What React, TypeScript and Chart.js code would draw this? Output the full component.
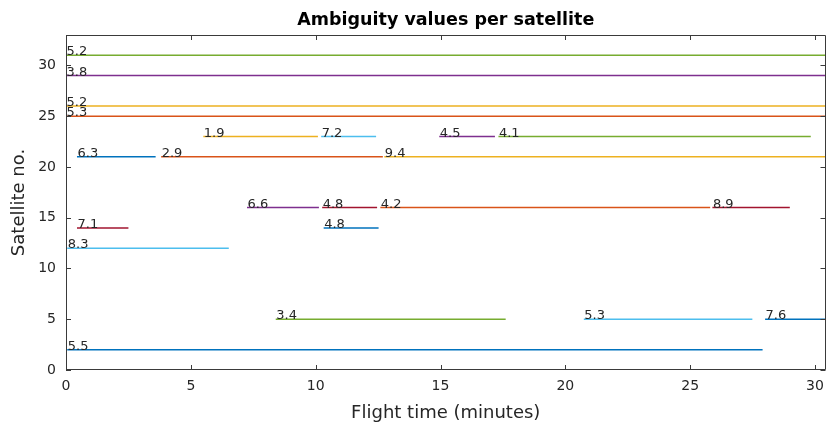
import React, { useEffect, useRef } from "react";
import { Chart, registerables } from "chart.js";

Chart.register(...registerables);

// One entry per tracked ambiguity segment
const satellites = [31, 29, 26, 25, 23, 23, 23, 23, 21, 21, 21, 16, 16, 16, 16, 14, 14, 12, 5, 5, 5, 2];
const startMin = [0, 0, 0, 0, 5.5, 10.22, 14.95, 17.32, 0.44, 3.81, 12.75, 7.25, 10.26, 12.59, 25.89, 0.44, 10.32, 0.05, 8.4, 20.74, 28.0, 0.05];
const endMin = [30.5, 30.5, 30.5, 30.5, 10.09, 12.42, 17.18, 29.83, 3.59, 12.69, 30.5, 10.13, 12.46, 25.8, 28.99, 2.5, 12.52, 6.52, 17.61, 27.49, 30.5, 27.9];
const ambiguity = [5.2, 3.8, 5.2, 5.3, 1.9, 7.2, 4.5, 4.1, 6.3, 2.9, 9.4, 6.6, 4.8, 4.2, 8.9, 7.1, 4.8, 8.3, 3.4, 5.3, 7.6, 5.5];
const colorIndex = [4, 3, 2, 1, 2, 5, 3, 4, 0, 1, 2, 3, 6, 1, 6, 6, 0, 5, 4, 5, 0, 0];

const xTicks = [0, 5, 10, 15, 20, 25, 30];
const yTicks = [0, 5, 10, 15, 20, 25, 30];

const palette = ["#0072BD", "#D95319", "#EDB120", "#7E2F8E", "#77AC30", "#4DBEEE", "#A2142F"];

const TITLE = "Ambiguity values per satellite";
const FONT = "'DejaVu Sans', sans-serif";
const INK = "#262626";

const decorations = {
  id: "decorations",
  afterDatasetsDraw(chart: any) {
    const { ctx, chartArea, scales } = chart;
    const xs = scales.x;
    const ys = scales.y;
    ctx.save();
    // value labels sitting on each segment's start
    ctx.font = `13px ${FONT}`;
    ctx.fillStyle = INK;
    ctx.textAlign = "left";
    ctx.textBaseline = "alphabetic";
    for (let i = 0; i < satellites.length; i++) {
      const px = xs.getPixelForValue(startMin[i]);
      const py = ys.getPixelForValue(satellites[i]);
      ctx.fillText(ambiguity[i].toFixed(1), px + 0.5, py);
    }

    // axes box
    const { left, right, top, bottom } = chartArea;
    ctx.strokeStyle = "#3a3a3a";
    ctx.lineWidth = 1;
    ctx.beginPath();
    ctx.rect(Math.round(left) + 0.5, Math.round(top) + 0.5, Math.round(right - left) - 1, Math.round(bottom - top) - 1);
    ctx.stroke();

    // inward tick marks on all four sides
    const tl = 5;
    ctx.beginPath();
    for (const v of xTicks) {
      const px = Math.round(xs.getPixelForValue(v)) + 0.5;
      ctx.moveTo(px, bottom);
      ctx.lineTo(px, bottom - tl);
      ctx.moveTo(px, top);
      ctx.lineTo(px, top + tl);
    }
    for (const v of yTicks) {
      const py = Math.round(ys.getPixelForValue(v)) + 0.5;
      ctx.moveTo(left, py);
      ctx.lineTo(left + tl, py);
      ctx.moveTo(right, py);
      ctx.lineTo(right - tl, py);
    }
    ctx.stroke();

    // title centred over the plot
    ctx.font = `bold 17.5px ${FONT}`;
    ctx.fillStyle = "#000";
    ctx.textAlign = "center";
    ctx.textBaseline = "alphabetic";
    ctx.fillText(TITLE, (left + right) / 2, 25);
    ctx.restore();
  },
};

export default function App() {
  const canvasRef = useRef<HTMLCanvasElement | null>(null);

  useEffect(() => {
    const canvas = canvasRef.current;
    if (!canvas) return;
    const datasets = satellites.map((sat, i) => ({
      label: `seg${i}`,
      data: [
        { x: startMin[i], y: sat },
        { x: endMin[i], y: sat },
      ],
      showLine: true,
      borderColor: palette[colorIndex[i]],
      backgroundColor: palette[colorIndex[i]],
      borderWidth: 1.5,
      pointRadius: 0,
      pointHoverRadius: 0,
    }));

    const chart = new Chart(canvas, {
      type: "scatter",
      data: { datasets },
      options: {
        responsive: false,
        animation: false,
        events: [],
        layout: { padding: { top: 35, right: 5, left: 0, bottom: 0 } },
        plugins: {
          legend: { display: false },
          tooltip: { enabled: false },
          title: { display: false },
        },
        scales: {
          x: {
            type: "linear",
            min: 0,
            max: 30.42,
            afterFit: (s: any) => {
              s.height = 59;
            },
            grid: { display: false, drawTicks: false },
            border: { display: false },
            ticks: {
              stepSize: 5,
              includeBounds: false,
              color: INK,
              padding: 8,
              font: { family: FONT, size: 14 },
            },
            title: {
              display: true,
              text: "Flight time (minutes)",
              color: INK,
              font: { family: FONT, size: 18 },
              padding: { top: 0, bottom: 5 },
            },
          },
          y: {
            type: "linear",
            min: 0,
            max: 33,
            afterFit: (s: any) => {
              s.width = 66;
            },
            grid: { display: false, drawTicks: false },
            border: { display: false },
            ticks: {
              stepSize: 5,
              includeBounds: false,
              color: INK,
              padding: 10,
              font: { family: FONT, size: 14 },
            },
            title: {
              display: true,
              text: "Satellite no.",
              color: INK,
              font: { family: FONT, size: 18 },
              padding: { top: 9, bottom: 0 },
            },
          },
        },
      },
      plugins: [decorations],
    } as any);

    return () => chart.destroy();
  }, []);

  return (
    <div style={{ position: "absolute", left: 0, top: 0, width: 832, height: 429, background: "#fff" }}>
      <canvas ref={canvasRef} width={832} height={429} />
    </div>
  );
}
